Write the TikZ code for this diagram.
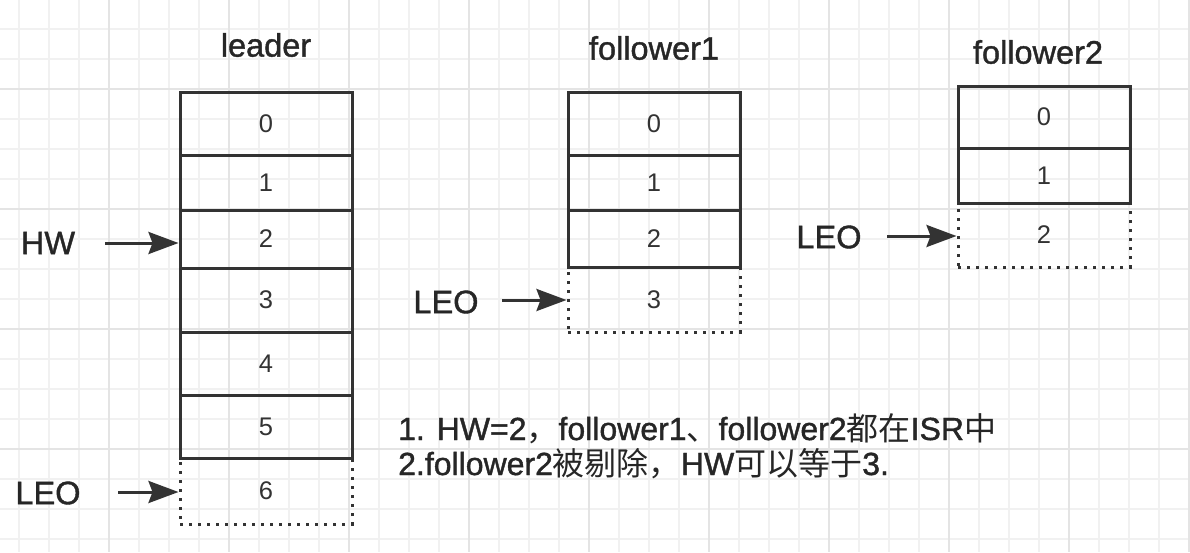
\documentclass[tikz,border=0pt]{standalone}
\usepackage{fontspec}
\setmainfont{Liberation Sans}
\newfontfamily\medfont{Liberation Sans}[FakeBold=1.2]
\newfontfamily\cjk{Noto Sans CJK SC}
\usetikzlibrary{arrows.meta}
\definecolor{ink}{HTML}{333333}
\definecolor{txt}{HTML}{262626}
\definecolor{gridminor}{HTML}{F1F1F1}
\definecolor{gridmajor}{HTML}{E4E4E4}
\tikzset{
  cell/.style={draw=ink, line width=3pt, minimum width=172pt, inner sep=0pt, text=ink,
    font=\fontsize{25.5}{28}\selectfont},
  dotcell/.style={cell, draw=ink, dash pattern=on 3pt off 6pt},
  title/.style={text=txt, font=\medfont\fontsize{32.5}{36}\selectfont, inner sep=0pt},
  lbl/.style={text=txt, font=\medfont\fontsize{32.5}{36}\selectfont, inner sep=0pt},
  arr/.style={draw=ink, line width=3pt, -{Stealth[length=30pt,width=22pt,inset=4pt]}},
  note/.style={text=txt, font=\medfont\fontsize{32}{35}\selectfont, inner sep=0pt, align=left, anchor=base west}
}
\begin{document}
\begin{tikzpicture}[x=1pt,y=-1pt]
\useasboundingbox (0,0) rectangle (1190,552);
\fill[white] (0,0) rectangle (1190,552);
% grid
\foreach \gx in {19,49,...,1189} \draw[gridminor, line width=1.2pt] (\gx,0) -- (\gx,552);
\foreach \gy in {29,59,...,551} \draw[gridminor, line width=1.2pt] (0,\gy) -- (1190,\gy);
\foreach \gx in {109,229,...,1189} \draw[gridmajor, line width=1.4pt] (\gx,0) -- (\gx,552);
\foreach \gy in {89,209,...,551} \draw[gridmajor, line width=1.4pt] (0,\gy) -- (1190,\gy);

% titles
\node[title] (tL) at (266,45) {leader};
\node[title] (tF1) at (654,48) {follower1};
\node[title] (tF2) at (1038,52) {follower2};

% leader
\node[cell, minimum height=63pt] (L0) at (266,123.5) {0};
\node[cell, minimum height=55pt] (L1) at (266,182.5) {1};
\node[cell, minimum height=58pt] (L2) at (266,239) {2};
\node[cell, minimum height=64pt] (L3) at (266,300) {3};
\node[cell, minimum height=63pt] (L4) at (266,363.5) {4};
\node[cell, minimum height=63pt] (L5) at (266,426.5) {5};
\node[dotcell, minimum height=66pt] (L6) at (266,491) {6};

% follower1
\node[cell, minimum height=63pt] (A0) at (654,123.5) {0};
\node[cell, minimum height=55pt] (A1) at (654,182.5) {1};
\node[cell, minimum height=57pt] (A2) at (654,238.5) {2};
\node[dotcell, minimum height=65pt] (A3) at (654,299.5) {3};

% follower2
\node[cell, minimum height=62pt] (B0) at (1044,117) {0};
\node[cell, minimum height=55pt] (B1) at (1044,175.5) {1};
\node[dotcell, minimum height=64pt] (B2) at (1044,235) {2};

% labels and arrows
\node[lbl] (hw) at (48,243) {HW};
\coordinate (hwS) at (105,243);
\draw[arr] (hwS) -- (hwS -| L2.west);

\node[lbl] (leoL) at (48,493) {LEO};
\coordinate (leoLS) at (118,492);
\draw[arr] (leoLS) -- (leoLS -| L6.west);

\node[lbl] (leoA) at (446,302) {LEO};
\coordinate (leoAS) at (502,300);
\draw[arr] (leoAS) -- (leoAS -| A3.west);

\node[lbl] (leoB) at (829,237) {LEO};
\coordinate (leoBS) at (887,236);
\draw[arr] (leoBS) -- (leoBS -| B2.west);

% notes
\node[note] (notes) at (398,475) {1. HW=2{\cjk ，}follower1{\cjk 、}follower2{\cjk 都在}ISR{\cjk 中}\\
2.follower2{\cjk 被剔除，}HW{\cjk 可以等于}3.};
\end{tikzpicture}
\end{document}
